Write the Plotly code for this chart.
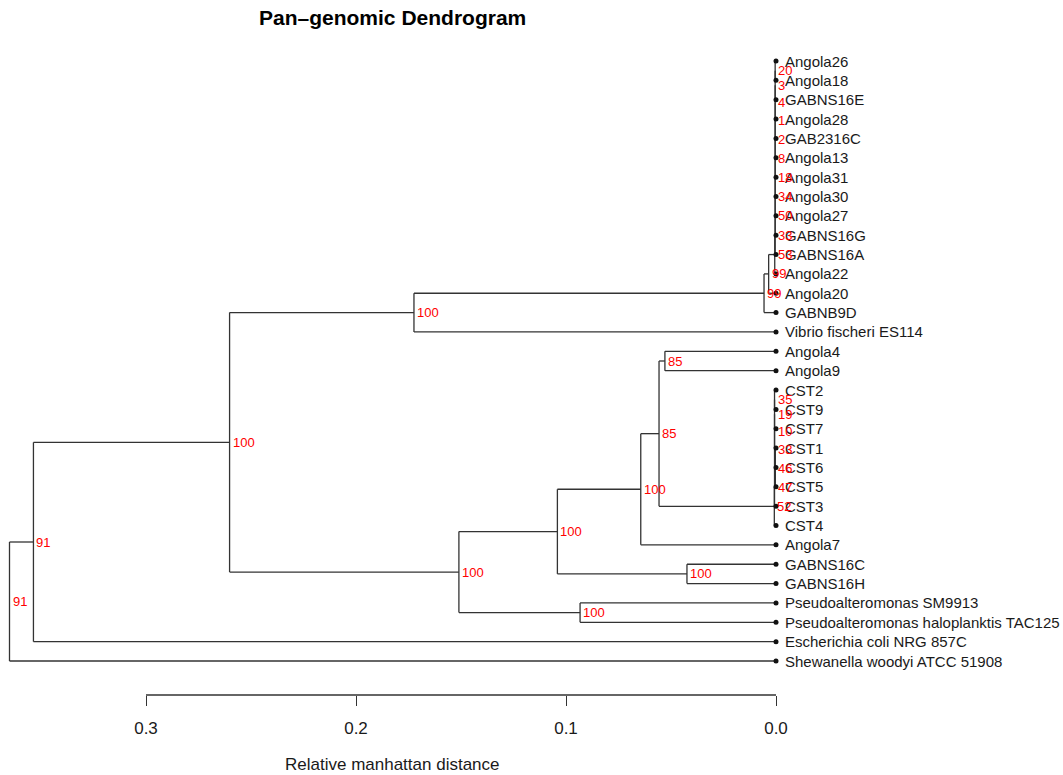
import plotly.graph_objects as go

# ---- data -------------------------------------------------------------
leaves = ["Angola26", "Angola18", "GABNS16E", "Angola28", "GAB2316C", "Angola13",
          "Angola31", "Angola30", "Angola27", "GABNS16G", "GABNS16A", "Angola22",
          "Angola20", "GABNB9D", "Vibrio fischeri ES114", "Angola4", "Angola9",
          "CST2", "CST9", "CST7", "CST1", "CST6", "CST5", "CST3", "CST4",
          "Angola7", "GABNS16C", "GABNS16H", "Pseudoalteromonas SM9913",
          "Pseudoalteromonas haloplanktis TAC125", "Escherichia coli NRG 857C",
          "Shewanella woodyi ATCC 51908"]

node_ids = ["n1", "n2", "n3", "n4", "n5", "n6", "n7", "n8", "n9", "n10", "n11", "n12",
            "n13", "n14", "m1", "c1", "c2", "c3", "c4", "c5", "c6", "c7", "m2", "m3",
            "g1", "m4", "p1", "m5", "top", "r1", "root"]
node_left = ["Angola26", "n1", "n2", "n3", "n4", "n5", "n6", "n7", "n8", "n9", "n10",
             "n11", "n12", "n13", "Angola4", "CST2", "c1", "c2", "c3", "c4", "c5", "c6",
             "m1", "m2", "GABNS16C", "m3", "Pseudoalteromonas SM9913", "m4", "n14",
             "top", "r1"]
node_right = ["Angola18", "GABNS16E", "Angola28", "GAB2316C", "Angola13", "Angola31",
              "Angola30", "Angola27", "GABNS16G", "GABNS16A", "Angola22", "Angola20",
              "GABNB9D", "Vibrio fischeri ES114", "Angola9", "CST9", "CST7", "CST1",
              "CST6", "CST5", "CST3", "CST4", "c7", "Angola7", "GABNS16H", "g1",
              "Pseudoalteromonas haloplanktis TAC125", "p1", "m5",
              "Escherichia coli NRG 857C", "Shewanella woodyi ATCC 51908"]
node_height = [0.0004, 0.0004, 0.0004, 0.0004, 0.0004, 0.0004, 0.0004, 0.0004, 0.0004,
               0.0004, 0.0006, 0.0035, 0.0057, 0.1724, 0.0529, 0.0007, 0.0007, 0.0007,
               0.0007, 0.0003, 0.0007, 0.0008, 0.0557, 0.0644, 0.0424, 0.1041, 0.0933,
               0.151, 0.2602, 0.3536, 0.365]
node_support = ["20", "3", "4", "1", "2", "8", "18", "34", "50", "33", "53", "99", "99",
                "100", "85", "35", "19", "10", "33", "46", "47", "52", "85", "100",
                "100", "100", "100", "100", "100", "91", "91"]

axis_ticks = [0.3, 0.2, 0.1, 0.0]
axis_ticktext = ["0.3", "0.2", "0.1", "0.0"]

# ---- layout geometry ---------------------------------------------------
W, H = 1063, 775
FONT = "Liberation Sans, Arial, Helvetica, sans-serif"
X_RANGE = [776 / 2100, (776 - W) / 2100]
Y_TOP_PX, Y_STEP_PX = 61, 600 / 31
Y_RANGE = [1 + (H - Y_TOP_PX) / Y_STEP_PX, 1 - Y_TOP_PX / Y_STEP_PX]
AXIS_Y_PX = 695
AXIS_Y = 1 + (AXIS_Y_PX - Y_TOP_PX) / Y_STEP_PX

# ---- compute tree coordinates -----------------------------------------
pos = {}
for i, name in enumerate(leaves):
    pos[name] = (0.0, i + 1)
for nid, a, b, h in zip(node_ids, node_left, node_right, node_height):
    pos[nid] = (h, (pos[a][1] + pos[b][1]) / 2)

xs, ys = [], []
for nid, a, b in zip(node_ids, node_left, node_right):
    hx, _ = pos[nid]
    ya, yb = pos[a][1], pos[b][1]
    xs += [hx, hx, None]
    ys += [ya, yb, None]
    for c in (a, b):
        xs += [hx, pos[c][0], None]
        ys += [pos[c][1], pos[c][1], None]

LINE = "#333333"
fig = go.Figure()
fig.add_trace(go.Scatter(x=xs, y=ys, mode="lines",
                         line=dict(color=LINE, width=1.3),
                         hoverinfo="skip", showlegend=False))
fig.add_trace(go.Scatter(x=[pos[n][0] for n in leaves], y=[pos[n][1] for n in leaves],
                         mode="markers", marker=dict(color="#111111", size=5, symbol="circle"),
                         hoverinfo="skip", showlegend=False))
# scale bar line
fig.add_trace(go.Scatter(x=[axis_ticks[0], axis_ticks[-1]], y=[AXIS_Y, AXIS_Y],
                         mode="lines", line=dict(color=LINE, width=1.3),
                         hoverinfo="skip", showlegend=False))

annotations = []
for name in leaves:
    annotations.append(dict(x=pos[name][0], y=pos[name][1], xref="x", yref="y",
                            text=name, showarrow=False, xanchor="left", yanchor="middle",
                            xshift=7, font=dict(family=FONT, size=15, color="#1a1a1a")))
for nid, s in zip(node_ids, node_support):
    annotations.append(dict(x=pos[nid][0], y=pos[nid][1], xref="x", yref="y",
                            text=s, showarrow=False, xanchor="left", yanchor="middle",
                            xshift=1, font=dict(family=FONT, size=13, color="#ff0000")))
annotations.append(dict(x=392 / W, y=1 - 18 / H, xref="paper", yref="paper",
                        text="<b>Pan–genomic Dendrogram</b>", showarrow=False,
                        xanchor="center", yanchor="middle",
                        font=dict(family=FONT, size=21, color="#000000")))
annotations.append(dict(x=392 / W, y=1 - 764 / H, xref="paper", yref="paper",
                        text="Relative manhattan distance", showarrow=False,
                        xanchor="center", yanchor="middle",
                        font=dict(family=FONT, size=17, color="#1a1a1a")))

fig.update_layout(
    width=W, height=H, autosize=False,
    margin=dict(l=0, r=0, t=0, b=0, pad=0, autoexpand=False),
    paper_bgcolor="white", plot_bgcolor="white",
    xaxis=dict(range=X_RANGE, domain=[0, 1], anchor="free",
               position=(H - AXIS_Y_PX) / H, side="bottom",
               showline=False, showgrid=False, zeroline=False,
               ticks="outside", ticklen=10, tickwidth=1.3, tickcolor=LINE,
               tickvals=axis_ticks, ticktext=axis_ticktext, ticklabelstandoff=8,
               tickfont=dict(family=FONT, size=17, color="#1a1a1a")),
    yaxis=dict(range=Y_RANGE, visible=False, domain=[0, 1]),
    annotations=annotations,
)

fig.write_html("out.html", config={"displayModeBar": False},
               post_script="document.body.style.margin='0';document.body.style.overflow='hidden';")
